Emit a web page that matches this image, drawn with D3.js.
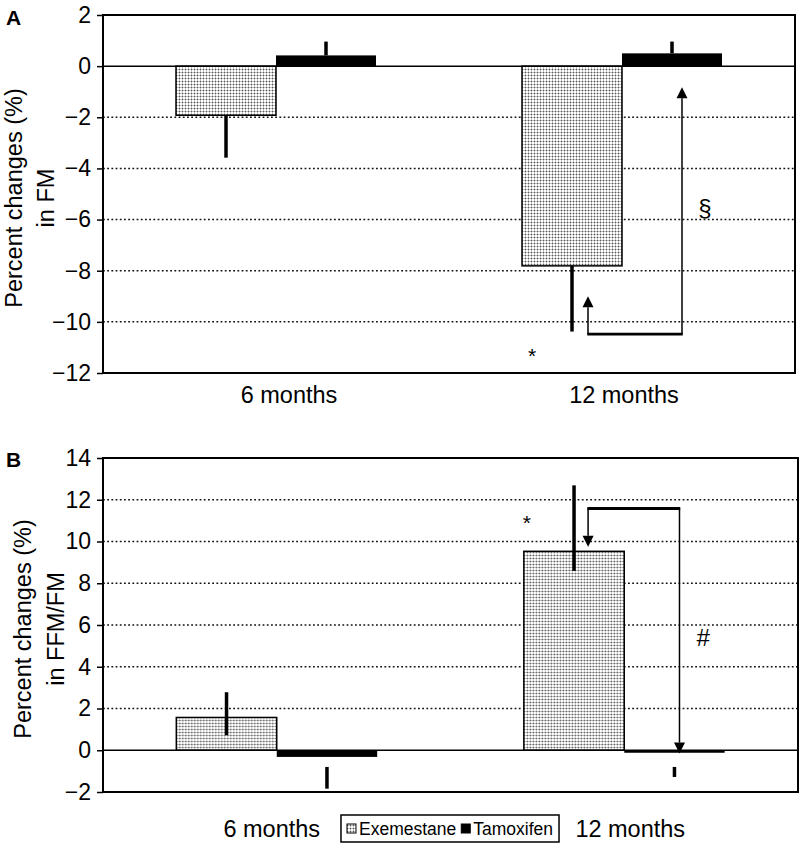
<!DOCTYPE html>
<html>
<head>
<meta charset="utf-8">
<script src="https://cdn.jsdelivr.net/npm/d3@7"></script>
<style>
  body { margin: 0; background: #fff; }
  svg { display: block; }
</style>
</head>
<body>
<script>
const width = 805,
      height = 845;

// categories and series
const categories = ["6 months", "12 months"];
const seriesNames = ["Exemestane", "Tamoxifen"];

// panel A: percent changes in FM
const fmExemestane = [-1.92, -7.81];
const fmTamoxifen = [0.42, 0.50];
const fmExemestaneErr = [[-3.58, -1.92], [-10.38, -7.81]];
const fmTamoxifenErr = [[0.42, 0.96], [0.50, 0.96]];
const fmTicks = [2, 0, -2, -4, -6, -8, -10, -12];

// panel B: percent changes in FFM/FM
const ffmExemestane = [1.57, 9.53];
const ffmTamoxifen = [-0.32, -0.12];
const ffmExemestaneErr = [[0.72, 2.78], [8.59, 12.69]];
const ffmTamoxifenErr = [[-1.84, -0.80], [-1.28, -0.80]];
const ffmTicks = [14, 12, 10, 8, 6, 4, 2, 0, -2];

// significance brackets (values in axis units)
const fmBracket = { cat: "12 months", fromTip: -9.0, toTip: -0.83, level: -10.48 };
const ffmBracket = { cat: "12 months", fromTip: 9.75, toTip: -0.16, level: 11.58 };
const fmMarks = [{ cat: "12 months", text: "*", value: -11.0 }, { cat: "12 months", text: "§", value: -5.55 }];
const ffmMarks = [{ cat: "12 months", text: "*", value: 11.3 }, { cat: "12 months", text: "#", value: 5.4 }];

const font = "'Liberation Sans', Arial, Helvetica, sans-serif";

const svg = d3.select("body")
  .append("svg")
  .attr("width", width)
  .attr("height", height)
  .style("font-family", font);

// dotted fill used for the Exemestane bars
const defs = svg.append("defs");
const pat = defs.append("pattern")
  .attr("id", "dots")
  .attr("patternUnits", "userSpaceOnUse")
  .attr("width", 3)
  .attr("height", 3);
pat.append("rect").attr("width", 3).attr("height", 3).attr("fill", "#fff");
pat.append("rect").attr("width", 3).attr("height", 1).attr("fill", "#c0c0c0");
pat.append("rect").attr("width", 1).attr("height", 3).attr("fill", "#c0c0c0");
pat.append("rect").attr("width", 1).attr("height", 1).attr("fill", "#555");

const minus = (d) => d < 0 ? "\u2212" + Math.abs(d) : String(d);

function drawPanel(cfg) {
  const g = svg.append("g");

  const y = d3.scaleLinear()
    .domain([cfg.ticks[cfg.ticks.length - 1], cfg.ticks[0]])
    .range([cfg.bottom, cfg.top]);

  const x = d3.scaleBand()
    .domain(categories)
    .range([cfg.left, cfg.right])
    .paddingInner(0.422)
    .paddingOuter(0.211);

  const xs = d3.scaleBand()
    .domain(seriesNames)
    .range([0, x.bandwidth()]);

  // dotted gridlines
  g.append("g").selectAll("line")
    .data(cfg.ticks.filter((t) => t !== 0 && t !== cfg.ticks[0] && t !== cfg.ticks[cfg.ticks.length - 1]))
    .enter().append("line")
    .attr("x1", cfg.left).attr("x2", cfg.right)
    .attr("y1", (d) => y(d)).attr("y2", (d) => y(d))
    .attr("stroke", "#111")
    .attr("stroke-width", 1.5)
    .attr("stroke-dasharray", "1.8,2.4");

  const rows = categories.map((c, i) => ({
    cat: c,
    bars: [
      { s: "Exemestane", v: cfg.exe[i], err: cfg.exeErr[i] },
      { s: "Tamoxifen", v: cfg.tam[i], err: cfg.tamErr[i] }
    ]
  }));

  const groups = g.append("g").selectAll("g")
    .data(rows)
    .enter().append("g")
    .attr("transform", (d) => "translate(" + x(d.cat) + ",0)");

  groups.selectAll("rect")
    .data((d) => d.bars)
    .enter().append("rect")
    .attr("x", (d) => xs(d.s))
    .attr("width", xs.bandwidth())
    .attr("y", (d) => y(Math.max(d.v, 0)))
    .attr("height", (d) => Math.abs(y(d.v) - y(0)))
    .attr("fill", (d) => d.s === "Exemestane" ? "url(#dots)" : "#000")
    .attr("stroke", "#000")
    .attr("stroke-width", (d) => d.s === "Exemestane" ? 1.5 : 0);

  // zero line
  g.append("line")
    .attr("x1", cfg.left).attr("x2", cfg.right)
    .attr("y1", y(0)).attr("y2", y(0))
    .attr("stroke", "#000").attr("stroke-width", 1.5);

  // error bars
  groups.selectAll("line.err")
    .data((d) => d.bars)
    .enter().append("line")
    .attr("class", "err")
    .attr("x1", (d) => xs(d.s) + xs.bandwidth() / 2)
    .attr("x2", (d) => xs(d.s) + xs.bandwidth() / 2)
    .attr("y1", (d) => y(d.err[0]))
    .attr("y2", (d) => y(d.err[1]))
    .attr("stroke", "#000")
    .attr("stroke-width", 3.5);

  // plot frame
  g.append("rect")
    .attr("x", cfg.left).attr("y", cfg.top)
    .attr("width", cfg.right - cfg.left)
    .attr("height", cfg.bottom - cfg.top)
    .attr("fill", "none")
    .attr("stroke", "#000")
    .attr("stroke-width", 2);

  // y axis
  const axis = g.append("g")
    .attr("transform", "translate(" + cfg.left + ",0)")
    .call(d3.axisLeft(y).tickValues(cfg.ticks).tickSize(6).tickPadding(6).tickFormat(minus));
  axis.select(".domain").remove();
  axis.attr("font-size", null).attr("font-family", null);
  axis.selectAll(".tick line").attr("stroke", "#000").attr("stroke-width", 1.5);
  axis.selectAll(".tick text")
    .style("font-family", font)
    .style("font-size", "23px")
    .attr("fill", "#000");

  // y title, two lines
  const midY = (cfg.top + cfg.bottom) / 2 + 4;
  cfg.title.forEach((t, i) => {
    g.append("text")
      .attr("transform", "translate(" + cfg.titleX[i] + "," + midY + ") rotate(-90)")
      .attr("text-anchor", "middle")
      .attr("font-size", 23.5)
      .text(t);
  });

  // panel letter
  g.append("text")
    .attr("x", 6).attr("y", cfg.letterY)
    .attr("font-size", 21)
    .attr("font-weight", "bold")
    .text(cfg.letter);

  // category labels
  g.append("g").selectAll("text")
    .data(categories)
    .enter().append("text")
    .attr("x", (d, i) => x(d) + x.bandwidth() / 2 + cfg.labelDx[i])
    .attr("y", cfg.labelY)
    .attr("text-anchor", "middle")
    .attr("font-size", 23.5)
    .text((d) => d);

  // significance bracket
  const b = cfg.bracket;
  const x1 = x(b.cat) + xs("Exemestane") + xs.bandwidth() * cfg.bracketFrac[0];
  const x2 = x(b.cat) + xs("Tamoxifen") + xs.bandwidth() * cfg.bracketFrac[1];
  const yl = y(b.level);
  const head = 11;
  [[x1, b.fromTip], [x2, b.toTip]].forEach(([px, tip]) => {
    const yt = y(tip);
    const dir = yt < yl ? 1 : -1; // 1: arrow points up
    const base = yt + dir * head;
    g.append("line")
      .attr("x1", px).attr("x2", px)
      .attr("y1", yl).attr("y2", base)
      .attr("stroke", "#000").attr("stroke-width", 1.5);
    g.append("path")
      .attr("d", "M" + px + "," + yt + "L" + (px - 5.5) + "," + base + "L" + (px + 5.5) + "," + base + "Z")
      .attr("fill", "#000");
  });
  g.append("line")
    .attr("x1", x1 - 0.75).attr("x2", x2 + 0.75)
    .attr("y1", yl).attr("y2", yl)
    .attr("stroke", "#000").attr("stroke-width", 2.8);

  // significance symbols
  cfg.marks.forEach((m, i) => {
    const big = m.text !== "*";
    g.append("text")
      .attr("x", x(m.cat) + cfg.markDx[i])
      .attr("y", y(m.value))
      .attr("dy", big ? "0.35em" : "0.75em")
      .attr("text-anchor", "middle")
      .attr("font-size", big ? 24 : 21)
      .attr("font-style", m.text === "#" ? "italic" : "normal")
      .text(m.text);
  });

  return { x, y };
}

drawPanel({
  top: 15, bottom: 373, left: 103, right: 795,
  ticks: fmTicks,
  exe: fmExemestane, tam: fmTamoxifen,
  exeErr: fmExemestaneErr, tamErr: fmTamoxifenErr,
  title: ["Percent changes (%)", "in FM"], titleX: [22, 54],
  letter: "A", letterY: 25,
  labelY: 403, labelDx: [13, 2],
  bracket: fmBracket, bracketFrac: [0.66, 0.60],
  marks: fmMarks, markDx: [10, 183]
});

drawPanel({
  top: 458, bottom: 792, left: 103, right: 798,
  ticks: ffmTicks,
  exe: ffmExemestane, tam: ffmTamoxifen,
  exeErr: ffmExemestaneErr, tamErr: ffmTamoxifenErr,
  title: ["Percent changes (%)", "in FFM/FM"], titleX: [31, 64],
  letter: "B", letterY: 467,
  labelY: 837, labelDx: [-5, 6],
  bracket: ffmBracket, bracketFrac: [0.64, 0.55],
  marks: ffmMarks, markDx: [3, 179]
});

// legend
const legend = svg.append("g");
const legendBox = legend.append("rect")
  .attr("y", 815).attr("height", 27)
  .attr("fill", "#fff")
  .attr("stroke", "#000")
  .attr("stroke-width", 1.5);

let cx = 0;
seriesNames.forEach((s) => {
  const item = legend.append("g");
  item.append("rect")
    .attr("x", cx).attr("y", 824)
    .attr("width", 9).attr("height", 9)
    .attr("fill", s === "Exemestane" ? "url(#dots)" : "#000")
    .attr("stroke", "#000")
    .attr("stroke-width", 1);
  const t = item.append("text")
    .attr("x", cx + 12).attr("y", 835)
    .attr("font-size", 17.5)
    .text(s);
  cx += 12 + t.node().getComputedTextLength() + 5;
});
const legendW = cx - 5 + 12;
const legendX = 450 - legendW / 2;
legendBox.attr("x", legendX).attr("width", legendW);
legend.selectAll("g").attr("transform", "translate(" + (legendX + 6) + ",0)");
</script>
</body>
</html>
